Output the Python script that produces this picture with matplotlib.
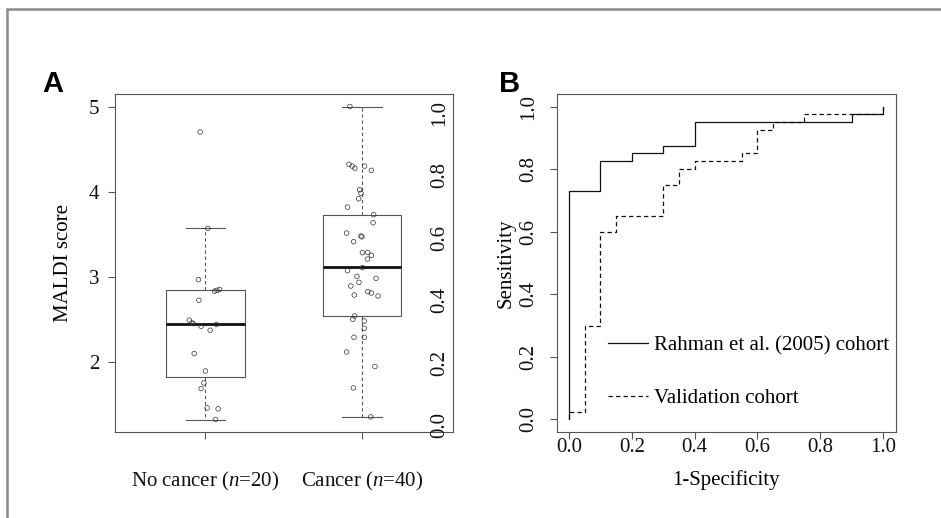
import matplotlib
matplotlib.use('Agg')
import matplotlib.pyplot as plt
from matplotlib.patches import Rectangle

plt.rcParams['font.family'] = ['Liberation Serif', 'DejaVu Serif']
plt.rcParams['mathtext.fontset'] = 'custom'
plt.rcParams['mathtext.it'] = 'Liberation Serif:italic'
plt.rcParams['mathtext.rm'] = 'Liberation Serif'

# ---------------- Data ----------------
groups = ['No cancer ($\\it{n}$=20)', 'Cancer ($\\it{n}$=40)']
box_med = [2.44, 3.11]
box_q1 = [1.82, 2.535]
box_q3 = [2.84, 3.72]
box_whislo = [1.315, 1.353]
box_whishi = [3.57, 5.0]

nocancer_scores = [4.70, 3.568, 2.966, 2.83, 2.84, 2.85, 2.723, 2.49, 2.457, 2.418,
                   2.371, 2.44, 2.097, 1.893, 1.752, 1.686, 1.459, 1.448, 1.323, 2.45]
nocancer_jitter = [-0.034, 0.015, -0.045, 0.058, 0.073, 0.09, -0.042, -0.103, -0.087, -0.028,
                   0.03, 0.07, -0.072, 0.0, -0.01, -0.028, 0.011, 0.081, 0.064, -0.079]
cancer_scores = [5.0, 4.32, 4.30, 4.276, 4.30, 4.25, 4.022, 3.98, 3.917, 3.818,
                 3.729, 3.635, 3.513, 3.478, 3.47, 3.412, 3.283, 3.286, 3.251, 3.208,
                 3.107, 3.072, 3.005, 2.934, 2.891, 2.981, 2.785, 2.825, 2.809, 2.774,
                 2.539, 2.50, 2.48, 2.394, 2.289, 2.289, 2.116, 1.945, 1.694, 1.353]
cancer_jitter = [-0.077, -0.083, -0.062, -0.045, 0.017, 0.06, -0.015, -0.006, -0.021, -0.092,
                 0.075, 0.071, -0.098, -0.006, 0.0, -0.053, 0.003, 0.037, 0.06, 0.035,
                 0.004, -0.092, -0.032, -0.019, -0.071, 0.09, -0.049, 0.038, 0.06, 0.103,
                 -0.047, -0.058, 0.015, 0.015, 0.015, -0.051, -0.098, 0.083, -0.055, 0.056]

rahman_fpr = [0.0, 0.0, 0.1, 0.2, 0.3, 0.4, 0.9, 1.0]
rahman_tpr = [0.0, 0.73, 0.825, 0.85, 0.875, 0.95, 0.975, 1.0]
valid_fpr = [0.0, 0.0, 0.05, 0.1, 0.15, 0.3, 0.35, 0.4, 0.55, 0.6, 0.65, 0.75, 1.0]
valid_tpr = [0.0, 0.025, 0.3, 0.6, 0.65, 0.75, 0.8, 0.825, 0.85, 0.925, 0.95, 0.975, 1.0]

maldi_ticks = [2, 3, 4, 5]
prob_ticks = [0.0, 0.2, 0.4, 0.6, 0.8, 1.0]

# ---------------- Figure ----------------
W, H = 941, 518
fig = plt.figure(figsize=(W / 100, H / 100), dpi=100)

FS = 15
SPINE = '#555555'

# outer frame
fig.add_artist(Rectangle((7 / W, -0.1), 1.2, 1.1 - 9 / H, transform=fig.transFigure,
                         fill=False, edgecolor='#8a8a8a', linewidth=1.8))

def fx(px):
    return px / W

def fy(py):
    return 1 - py / H

axA = fig.add_axes([fx(114.7), fy(432), fx(452.7) - fx(114.7), fy(94) - fy(432)])
axB = fig.add_axes([fx(556.5), fy(432), fx(895.5) - fx(556.5), fy(94) - fy(432)])

for ax in (axA, axB):
    for s in ax.spines.values():
        s.set_color(SPINE)
        s.set_linewidth(0.8)
    ax.tick_params(colors=SPINE, labelcolor='#111111', length=5, width=0.8, labelsize=FS)

# ---- Panel A ----
stats = []
for i in range(2):
    stats.append(dict(med=box_med[i], q1=box_q1[i], q3=box_q3[i],
                      whislo=box_whislo[i], whishi=box_whishi[i], fliers=[]))
axA.bxp(stats, positions=[1, 2], widths=0.5, showfliers=False,
        boxprops=dict(color=SPINE, linewidth=0.8),
        whiskerprops=dict(color='#555555', linewidth=0.8, linestyle=(0, (3, 2.5))),
        capprops=dict(color=SPINE, linewidth=0.8),
        medianprops=dict(color='#111111', linewidth=2.0))

xs1 = [1 + j for j in nocancer_jitter]
xs2 = [2 + j for j in cancer_jitter]
axA.scatter(xs1, nocancer_scores, s=11, facecolors='none', edgecolors='#333333', linewidths=0.5, zorder=5)
axA.scatter(xs2, cancer_scores, s=11, facecolors='none', edgecolors='#333333', linewidths=0.5, zorder=5)

allv = nocancer_scores + cancer_scores
lo, hi = min(allv), max(allv)
pad = 0.04 * (hi - lo)
axA.set_ylim(lo - pad, hi + pad)
axA.set_xlim(0.42, 2.58)
axA.set_yticks(maldi_ticks)
axA.set_yticklabels([str(t) for t in maldi_ticks])
axA.tick_params(axis='y', pad=6)
axA.set_xticks([1, 2])
axA.set_xticklabels(groups)
axA.tick_params(axis='x', pad=22.5)
axA.set_ylabel('MALDI score', fontsize=FS)
axA.yaxis.set_label_coords(-0.123, 0.5)

# inner probability labels on the right of panel A
tw = axA.twinx()
tw.set_ylim(-0.04, 1.04)
tw.set_yticks(prob_ticks)
tw.set_yticklabels(['%.1f' % t for t in prob_ticks])
tw.tick_params(axis='y', length=0, pad=-16, labelsize=FS, labelrotation=90, labelcolor='#111111')
for s in tw.spines.values():
    s.set_visible(False)

# ---- Panel B ----
axB.plot(rahman_fpr, rahman_tpr, drawstyle='steps-post', color='#111111', linewidth=0.9,
         label='Rahman et al. (2005) cohort')
axB.plot(valid_fpr, valid_tpr, drawstyle='steps-post', color='#111111', linewidth=0.9,
         linestyle=(0, (3.5, 2.5)), label='Validation cohort')
axB.set_xlim(-0.04, 1.04)
axB.set_ylim(-0.04, 1.04)
axB.set_xticks(prob_ticks)
axB.set_xticklabels(['%.1f' % t for t in prob_ticks])
axB.set_yticks(prob_ticks)
axB.set_yticklabels(['%.1f' % t for t in prob_ticks], rotation=90, va='center')
axB.tick_params(axis='y', pad=8)
axB.tick_params(axis='x', pad=-1)
axB.set_xlabel('1-Specificity', fontsize=FS)
axB.xaxis.set_label_coords(0.5, -0.1136)
axB.set_ylabel('Sensitivity', fontsize=FS)
axB.yaxis.set_label_coords(-0.122, 0.5)
axB.legend(loc='center left', bbox_to_anchor=(0.098, 0.178), frameon=False, fontsize=FS,
           handlelength=1.9, handletextpad=0.3, labelspacing=1.6)

# panel letters
fig.text(fx(53), fy(84), 'A', fontsize=21, fontweight='bold', family='Liberation Sans',
         ha='center', va='center')
fig.text(fx(510), fy(84), 'B', fontsize=21, fontweight='bold', family='Liberation Sans',
         ha='center', va='center')

fig.savefig('out.png', dpi=100)
